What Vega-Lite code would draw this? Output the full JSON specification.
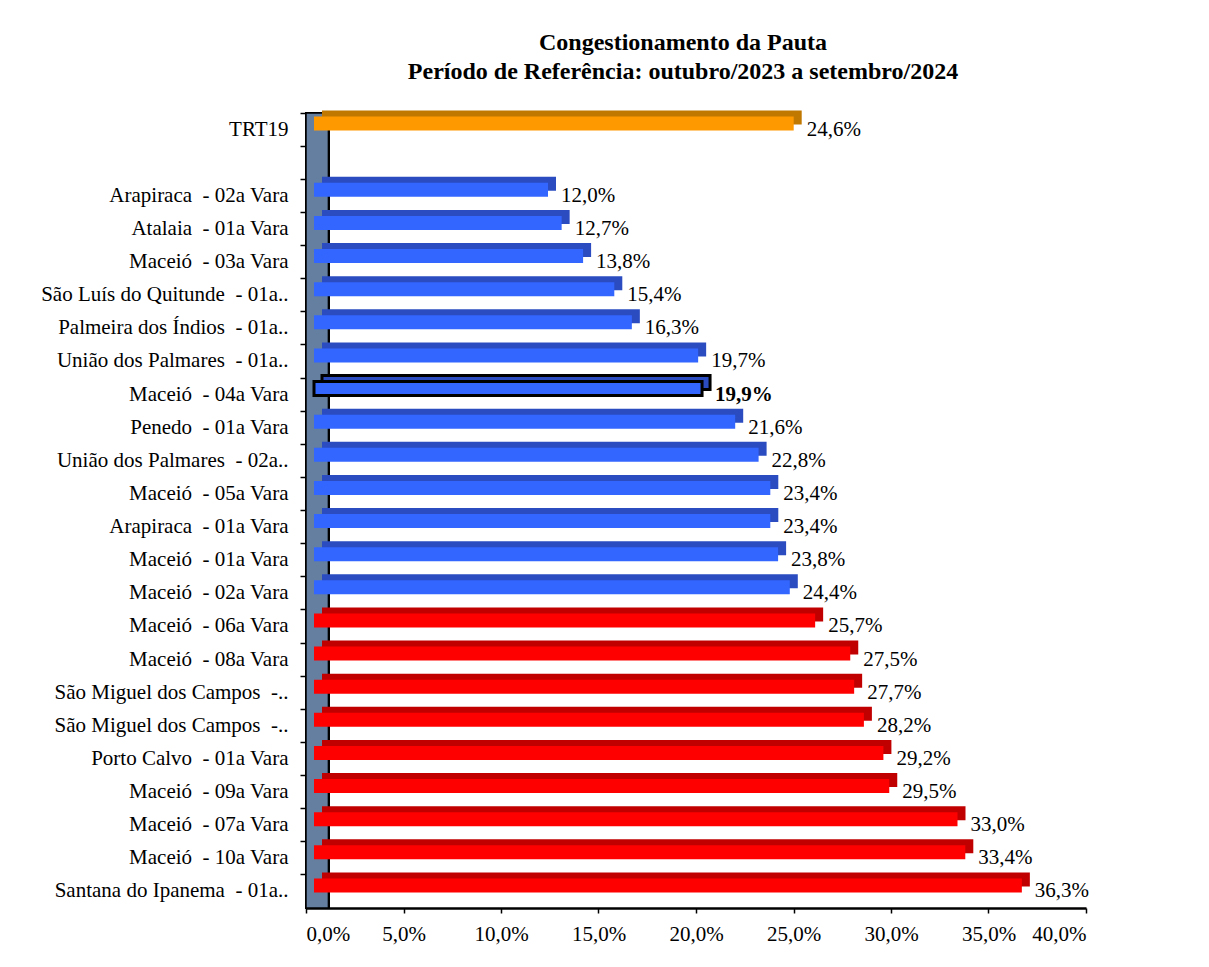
{
  "$schema": "https://vega.github.io/schema/vega-lite/v6.json",
  "autosize": "none",
  "width": 780,
  "height": 795,
  "padding": {"left": 306, "top": 113, "right": 123, "bottom": 59},
  "background": "white",
  "config": {
    "locale": {"number": {"decimal": ",", "thousands": ".", "grouping": [3], "currency": ["R$ ", ""]}},
    "view": {"stroke": null},
    "font": "Liberation Serif"
  },
  "title": {
    "text": ["Congestionamento da Pauta", "Período de Referência: outubro/2023 a setembro/2024"],
    "font": "Liberation Serif",
    "fontSize": 24,
    "fontWeight": "bold",
    "color": "black",
    "anchor": "middle",
    "dx": -13,
    "offset": 27,
    "lineHeight": 29
  },
  "data": {
    "values": [
      {"name": "TRT19", "value": 0.246, "grp": "TRT"},
      {"name": " ", "value": null, "grp": "Vazio"},
      {"name": "Arapiraca \u00a0- 02a Vara", "value": 0.120, "grp": "Abaixo"},
      {"name": "Atalaia \u00a0- 01a Vara", "value": 0.127, "grp": "Abaixo"},
      {"name": "Maceió \u00a0- 03a Vara", "value": 0.138, "grp": "Abaixo"},
      {"name": "São Luís do Quitunde \u00a0- 01a..", "value": 0.154, "grp": "Abaixo"},
      {"name": "Palmeira dos Índios \u00a0- 01a..", "value": 0.163, "grp": "Abaixo"},
      {"name": "União dos Palmares \u00a0- 01a..", "value": 0.197, "grp": "Abaixo"},
      {"name": "Maceió \u00a0- 04a Vara", "value": 0.199, "grp": "Destaque"},
      {"name": "Penedo \u00a0- 01a Vara", "value": 0.216, "grp": "Abaixo"},
      {"name": "União dos Palmares \u00a0- 02a..", "value": 0.228, "grp": "Abaixo"},
      {"name": "Maceió \u00a0- 05a Vara", "value": 0.234, "grp": "Abaixo"},
      {"name": "Arapiraca \u00a0- 01a Vara", "value": 0.234, "grp": "Abaixo"},
      {"name": "Maceió \u00a0- 01a Vara", "value": 0.238, "grp": "Abaixo"},
      {"name": "Maceió \u00a0- 02a Vara", "value": 0.244, "grp": "Abaixo"},
      {"name": "Maceió \u00a0- 06a Vara", "value": 0.257, "grp": "Acima"},
      {"name": "Maceió \u00a0- 08a Vara", "value": 0.275, "grp": "Acima"},
      {"name": "São Miguel dos Campos \u00a0-..", "value": 0.277, "grp": "Acima"},
      {"name": "São Miguel dos Campos \u00a0-..\u200b", "value": 0.282, "grp": "Acima"},
      {"name": "Porto Calvo \u00a0- 01a Vara", "value": 0.292, "grp": "Acima"},
      {"name": "Maceió \u00a0- 09a Vara", "value": 0.295, "grp": "Acima"},
      {"name": "Maceió \u00a0- 07a Vara", "value": 0.330, "grp": "Acima"},
      {"name": "Maceió \u00a0- 10a Vara", "value": 0.334, "grp": "Acima"},
      {"name": "Santana do Ipanema \u00a0- 01a..", "value": 0.363, "grp": "Acima"}
    ]
  },
  "resolve": {"scale": {"color": "independent"}},
  "layer": [
    {
      "mark": {"type": "rect", "color": "#647FA0", "stroke": "black", "strokeWidth": 1.5},
      "encoding": {
        "x": {"datum": 0, "type": "quantitative", "scale": {"domain": [0, 0.4]}},
        "x2": {"datum": 0.0115}
      }
    },
    {
      "mark": {"type": "bar", "size": 14, "xOffset": 16, "x2Offset": 16, "yOffset": -12, "stroke": "black"},
      "encoding": {
        "y": {
          "field": "name", "type": "nominal",
          "scale": {
            "domain": ["TRT19", " ", "Arapiraca \u00a0- 02a Vara", "Atalaia \u00a0- 01a Vara", "Maceió \u00a0- 03a Vara", "São Luís do Quitunde \u00a0- 01a..", "Palmeira dos Índios \u00a0- 01a..", "União dos Palmares \u00a0- 01a..", "Maceió \u00a0- 04a Vara", "Penedo \u00a0- 01a Vara", "União dos Palmares \u00a0- 02a..", "Maceió \u00a0- 05a Vara", "Arapiraca \u00a0- 01a Vara", "Maceió \u00a0- 01a Vara", "Maceió \u00a0- 02a Vara", "Maceió \u00a0- 06a Vara", "Maceió \u00a0- 08a Vara", "São Miguel dos Campos \u00a0-..", "São Miguel dos Campos \u00a0-..\u200b", "Porto Calvo \u00a0- 01a Vara", "Maceió \u00a0- 09a Vara", "Maceió \u00a0- 07a Vara", "Maceió \u00a0- 10a Vara", "Santana do Ipanema \u00a0- 01a.."],
            "paddingInner": 0, "paddingOuter": 0
          },
          "axis": {
            "title": null,
            "labelFont": "Liberation Serif",
            "labelFontSize": 21,
            "labelColor": "black",
            "labelPadding": 12,
            "labelLimit": 400,
            "tickSize": 6,
            "tickColor": "black",
            "tickWidth": 1.5,
            "domainColor": "black",
            "domainWidth": 2,
            "bandPosition": 0
          }
        },
        "x": {
          "field": "value", "type": "quantitative",
          "scale": {"domain": [0, 0.4]},
          "axis": {
            "title": null,
            "values": [0, 0.05, 0.1, 0.15, 0.2, 0.25, 0.3, 0.35, 0.4],
            "format": ".1%",
            "labelFont": "Liberation Serif",
            "labelFontSize": 21,
            "labelColor": "black",
            "labelPadding": 10,
            "tickSize": 5,
            "tickColor": "black",
            "tickWidth": 1.5,
            "domainColor": "black",
            "domainWidth": 2.5,
            "grid": false
          }
        },
        "color": {
          "field": "grp", "type": "nominal",
          "scale": {"domain": ["TRT", "Abaixo", "Destaque", "Acima"], "range": ["#C07800", "#2A4CC0", "#2A4CC0", "#C00000"]},
          "legend": null
        },
        "strokeWidth": {"condition": {"test": "datum.grp === 'Destaque'", "value": 3}, "value": 0}
      }
    },
    {
      "mark": {"type": "bar", "size": 14, "xOffset": 8, "x2Offset": 8, "yOffset": -6, "stroke": "black"},
      "encoding": {
        "y": {"field": "name", "type": "nominal"},
        "x": {"field": "value", "type": "quantitative"},
        "color": {
          "field": "grp", "type": "nominal",
          "scale": {"domain": ["TRT", "Abaixo", "Destaque", "Acima"], "range": ["#FF9900", "#3366FF", "#3366FF", "#FF0000"]},
          "legend": null
        },
        "strokeWidth": {"condition": {"test": "datum.grp === 'Destaque'", "value": 3}, "value": 0}
      }
    },
    {
      "transform": [{"filter": "datum.value != null && datum.grp !== 'Destaque'"}],
      "mark": {"type": "text", "align": "left", "baseline": "middle", "dx": 21, "dy": 0, "font": "Liberation Serif", "fontSize": 21, "color": "black"},
      "encoding": {
        "y": {"field": "name", "type": "nominal"},
        "x": {"field": "value", "type": "quantitative"},
        "text": {"field": "value", "type": "quantitative", "format": ".1%"}
      }
    },
    {
      "transform": [{"filter": "datum.grp === 'Destaque'"}],
      "mark": {"type": "text", "align": "left", "baseline": "middle", "dx": 21, "dy": 0, "font": "Liberation Serif", "fontSize": 21, "fontWeight": "bold", "color": "black"},
      "encoding": {
        "y": {"field": "name", "type": "nominal"},
        "x": {"field": "value", "type": "quantitative"},
        "text": {"field": "value", "type": "quantitative", "format": ".1%"}
      }
    }
  ]
}
